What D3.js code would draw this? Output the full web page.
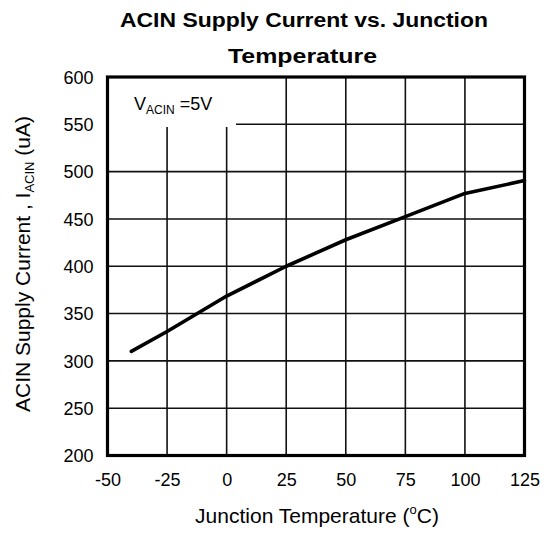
<!DOCTYPE html>
<html><head><meta charset="utf-8">
<script src="https://cdn.jsdelivr.net/npm/d3@7"></script>
<style>body{margin:0;background:#fff}svg{display:block}text{font-family:"Liberation Sans",Arial,sans-serif;fill:#000}</style>
</head><body>
<script>
const temps = [-40, -25, 0, 25, 50, 75, 100, 125];
const current = [310, 331, 368.5, 400, 428, 452.5, 477, 490.5];
const xTicks = [-50, -25, 0, 25, 50, 75, 100, 125];
const yTicks = [200, 250, 300, 350, 400, 450, 500, 550, 600];

const W = 552, H = 533;
const m = {left: 107.5, right: 524.5, top: 77, bottom: 455.5};
const svg = d3.select("body").append("svg").attr("width", W).attr("height", H);
const x = d3.scaleLinear().domain([-50, 125]).range([m.left, m.right]);
const y = d3.scaleLinear().domain([200, 600]).range([m.bottom, m.top]);

// grid
const g = svg.append("g");
g.selectAll(".vg").data(xTicks.slice(1, -1)).join("line")
  .attr("x1", d => x(d)).attr("x2", d => x(d)).attr("y1", y(600)).attr("y2", y(200))
  .attr("stroke", "#111").attr("stroke-width", 1.6);
g.selectAll(".hg").data(yTicks.slice(1, -1)).join("line")
  .attr("x1", x(-50)).attr("x2", x(125)).attr("y1", d => y(d)).attr("y2", d => y(d))
  .attr("stroke", "#111").attr("stroke-width", 1.6);
// legend white box
svg.append("rect").attr("x", x(-50)).attr("y", y(600)).attr("width", 236 - x(-50)).attr("height", 127 - y(600)).attr("fill", "#fff");
// frame
svg.append("rect").attr("x", x(-50)).attr("y", y(600)).attr("width", x(125) - x(-50)).attr("height", y(200) - y(600))
  .attr("fill", "none").attr("stroke", "#000").attr("stroke-width", 3.2);

// curve
const line = d3.line().x((d, i) => x(temps[i])).y(d => y(d));
svg.append("path").datum(current).attr("d", line).attr("fill", "none").attr("stroke", "#000")
  .attr("stroke-width", 3.6).attr("stroke-linejoin", "round").attr("stroke-linecap", "round");

// axes labels
const fmt = d => String(d);
const xAxis = d3.axisBottom(x).tickValues(xTicks).tickFormat(fmt).tickSize(0).tickPadding(0);
const xa = svg.append("g").attr("transform", `translate(0,${m.bottom})`).call(xAxis);
xa.select(".domain").remove();
xa.selectAll("text").attr("dy", null).attr("y", 30).style("font-size", "18px").style("font-family", "Liberation Sans, Arial, sans-serif");
const yAxis = d3.axisLeft(y).tickValues(yTicks).tickFormat(fmt).tickSize(0).tickPadding(0);
const ya = svg.append("g").attr("transform", `translate(${m.left},0)`).call(yAxis);
ya.select(".domain").remove();
ya.selectAll("text").attr("x", -14).attr("dy", "0.35em").style("font-size", "18px").style("font-family", "Liberation Sans, Arial, sans-serif");

// title
svg.append("text").attr("x", 304).attr("y", 27).attr("text-anchor", "middle").style("font-size", "20px").style("font-weight", "bold")
  .attr("textLength", 368).attr("lengthAdjust", "spacingAndGlyphs").text("ACIN Supply Current vs. Junction");
svg.append("text").attr("x", 302.5).attr("y", 63).attr("text-anchor", "middle").style("font-size", "20px").style("font-weight", "bold")
  .attr("textLength", 149).attr("lengthAdjust", "spacingAndGlyphs").text("Temperature");

// x title
const xt = svg.append("text").attr("x", 317).attr("y", 523).attr("text-anchor", "middle").style("font-size", "21px");
xt.append("tspan").text("Junction Temperature (");
xt.append("tspan").attr("dy", -9).style("font-size", "13px").text("o");
xt.append("tspan").attr("dy", 9).text("C)");

// y title
const yt = svg.append("text").attr("transform", "translate(30,264) rotate(-90)").attr("text-anchor", "middle").style("font-size", "21px");
yt.append("tspan").text("ACIN Supply Current , I");
yt.append("tspan").attr("dy", 4).style("font-size", "13px").text("ACIN");
yt.append("tspan").attr("dy", -4).text(" (uA)");

// legend
const lt = svg.append("text").attr("x", 134).attr("y", 110).style("font-size", "18px");
lt.append("tspan").text("V");
lt.append("tspan").attr("dy", 4).style("font-size", "12px").text("ACIN");
lt.append("tspan").attr("dy", -4).text(" =5V");
</script>
</body></html>
